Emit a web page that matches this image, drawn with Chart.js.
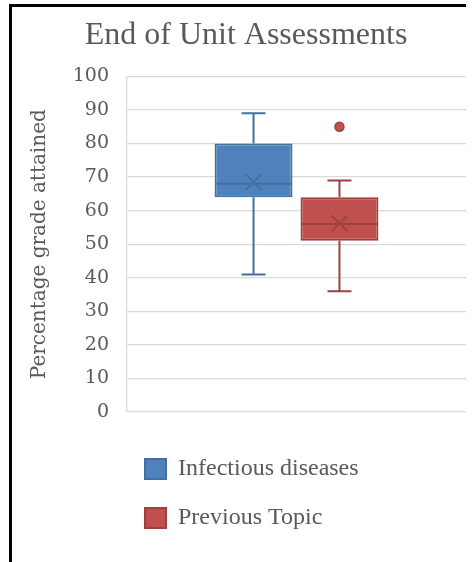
<!DOCTYPE html>
<html lang="en">
<head>
  <meta charset="UTF-8">
  <title>End of Unit Assessments</title>
  <script src="https://cdn.jsdelivr.net/npm/chart.js"></script>
  <style>
    html, body { margin: 0; padding: 0; background: #fff; }
    #wrap { position: relative; width: 472px; height: 562px; overflow: hidden; }
    #frame {
      position: absolute; left: 9px; top: 4px; width: 454px; height: 600px;
      border-top: 3px solid #000; border-left: 3px solid #000;
      pointer-events: none;
    }
    canvas { position: absolute; left: 0; top: 0; }
  </style>
</head>
<body>
  <div id="wrap">
    <canvas id="boxChart" width="472" height="562"></canvas>
    <div id="frame"></div>
  </div>

  <script>
    // box plot values
    const categories = [''];
    const seriesNames = ['Infectious diseases', 'Previous Topic'];
    const whiskerMin = [41, 36];
    const q1 = [64, 51];
    const median = [68, 56];
    const q3 = [80, 64];
    const whiskerMax = [89, 69];
    const mean = [68.5, 56.2];
    const outliers = [[], [85]];
    const yTicks = [0, 10, 20, 30, 40, 50, 60, 70, 80, 90, 100];

    const fills = ['#4F81BD', '#C0504D'];
    const borders = ['#41719C', '#9E413E'];

    // whiskers, median, mean cross and outliers drawn on top of the floating bars
    const boxExtras = {
      id: 'boxExtras',
      afterLayout(chart) {
        // pull the legend a bit to the left, rows stay as they are
        chart.legend.left -= 7;
      },
      afterDatasetsDraw(chart) {
        const ctx = chart.ctx;
        const y = chart.scales.y;
        chart.data.datasets.forEach((ds, i) => {
          const bar = chart.getDatasetMeta(i).data[0];
          const cx = bar.x;
          const half = bar.width / 2;
          const cap = 12;
          ctx.save();
          ctx.strokeStyle = borders[i];
          ctx.lineWidth = 2;
          ctx.beginPath();
          ctx.moveTo(cx, y.getPixelForValue(q3[i]));
          ctx.lineTo(cx, y.getPixelForValue(whiskerMax[i]));
          ctx.moveTo(cx - cap, y.getPixelForValue(whiskerMax[i]));
          ctx.lineTo(cx + cap, y.getPixelForValue(whiskerMax[i]));
          ctx.moveTo(cx, y.getPixelForValue(q1[i]));
          ctx.lineTo(cx, y.getPixelForValue(whiskerMin[i]));
          ctx.moveTo(cx - cap, y.getPixelForValue(whiskerMin[i]));
          ctx.lineTo(cx + cap, y.getPixelForValue(whiskerMin[i]));
          // median
          ctx.moveTo(cx - half + 1, y.getPixelForValue(median[i]));
          ctx.lineTo(cx + half - 1, y.getPixelForValue(median[i]));
          ctx.stroke();

          // mean cross
          const my = y.getPixelForValue(mean[i]);
          ctx.beginPath();
          ctx.moveTo(cx - 8, my - 8);
          ctx.lineTo(cx + 8, my + 8);
          ctx.moveTo(cx + 8, my - 8);
          ctx.lineTo(cx - 8, my + 8);
          ctx.stroke();

          // outliers
          outliers[i].forEach(v => {
            ctx.beginPath();
            ctx.arc(cx, y.getPixelForValue(v), 4.5, 0, Math.PI * 2);
            ctx.fillStyle = fills[i];
            ctx.fill();
            ctx.lineWidth = 1.5;
            ctx.stroke();
          });
          ctx.restore();
        });
      }
    };

    const ctx = document.getElementById('boxChart').getContext('2d');
    new Chart(ctx, {
      type: 'bar',
      data: {
        labels: categories,
        datasets: seriesNames.map((name, i) => ({
          label: name,
          data: [[q1[i], q3[i]]],
          backgroundColor: fills[i],
          borderColor: borders[i],
          borderWidth: 2,
          borderSkipped: false,
          categoryPercentage: 0.507,
          barPercentage: 0.907
        }))
      },
      options: {
        responsive: false,
        animation: false,
        layout: { padding: { left: 26, right: 6, top: 0, bottom: 22 } },
        plugins: {
          title: {
            display: true,
            text: 'End of Unit Assessments',
            color: '#595959',
            font: { family: 'Liberation Serif', size: 32, weight: 'normal' },
            padding: { top: 16, bottom: 22 }
          },
          legend: {
            position: 'bottom',
            align: 'start',
            fullSize: false,
            labels: {
              color: '#595959',
              font: { family: 'Liberation Serif', size: 24 },
              boxWidth: 21,
              boxHeight: 20,
              padding: 25
            }
          },
          tooltip: { enabled: false }
        },
        scales: {
          x: {
            grid: { display: false },
            border: { display: false },
            ticks: { display: false },
            afterFit: (axis) => { axis.height = 20; }
          },
          y: {
            min: 0,
            max: 100,
            afterBuildTicks: (axis) => { axis.ticks = yTicks.map(v => ({ value: v })); },
            ticks: {
              color: '#595959',
              font: { family: 'DejaVu Serif', size: 19 },
              padding: 18
            },
            grid: { color: '#d9d9d9', lineWidth: 1.3, drawTicks: false },
            border: { display: true, color: '#d9d9d9', width: 1.3 },
            title: {
              display: true,
              text: 'Percentage grade attained',
              color: '#595959',
              font: { family: 'DejaVu Serif', size: 20 },
              padding: { top: 2, bottom: 0 }
            },
            afterFit: (axis) => { axis.width = 101; }
          }
        }
      },
      plugins: [boxExtras]
    });
  </script>
</body>
</html>
